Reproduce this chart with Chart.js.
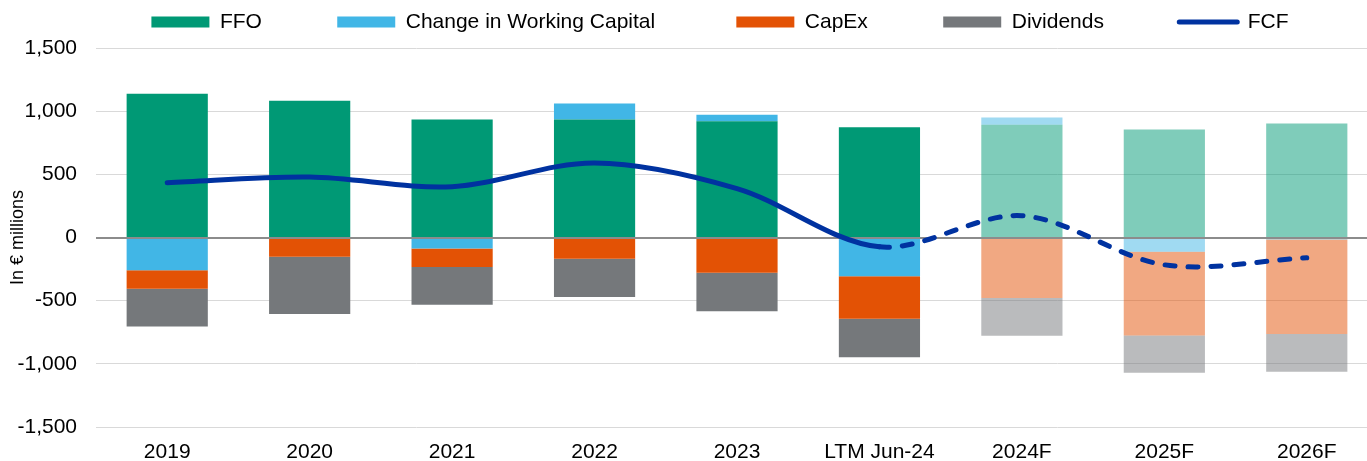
<!DOCTYPE html>
<html>
<head>
<meta charset="utf-8">
<script src="https://cdn.jsdelivr.net/npm/chart.js@4/dist/chart.umd.min.js"></script>
<style>
  html, body { margin: 0; padding: 0; background: #fff; width: 1367px; height: 461px; overflow: hidden; }
  #wrap { position: absolute; left: 0; top: 0; width: 1380px; height: 461px; }
</style>
</head>
<body>
<div id="wrap"><canvas id="c" width="1380" height="461"></canvas></div>
<script>
// ---- Data (€ millions) ----
const categories = ['2019', '2020', '2021', '2022', '2023', 'LTM Jun-24', '2024F', '2025F', '2026F'];
const ffo            = [1138, 1083,  934,  934,  921,  873,  892,  855,  902];
const workingCapital = [-260,    0,  -87,  127,   50, -306,   58, -113,  -16];
const capex          = [-145, -153, -146, -169, -280, -337, -479, -662, -748];
const dividends      = [-299, -452, -299, -302, -304, -304, -299, -296, -299];
const fcf            = [ 433,  478,  402,  590,  387,  -74,  172, -216, -161];
const yTicks = [-1500, -1000, -500, 0, 500, 1000, 1500];
const seriesNames = ['FFO', 'Change in Working Capital', 'CapEx', 'Dividends', 'FCF'];

// ---- Styling ----
const COL = { ffo: '#009975', wc: '#41B6E6', capex: '#E35205', div: '#75787B', fcf: '#0032A0' };
const isForecast = categories.map(c => /F$/.test(c));
const lastActualIdx = isForecast.indexOf(true) - 1;
const fillFor = hex => isForecast.map(f => f ? hex + '80' : hex);

Chart.defaults.font.family = "'Liberation Sans', Arial, sans-serif";
Chart.defaults.color = '#000';

function barSet(label, data, hex) {
  return {
    type: 'bar', label, data,
    backgroundColor: fillFor(hex),
    borderWidth: 0,
    pointStyle: 'rect',
    barPercentage: 0.57,
    categoryPercentage: 1.0,
    order: 1
  };
}

const zeroLine = {
  id: 'zeroLine',
  beforeDatasetDraw(chart, args) {
    if (args.index !== 4) return;
    const { ctx, chartArea } = chart;
    const y = Math.round(chart.scales.y.getPixelForValue(0));
    ctx.save();
    ctx.strokeStyle = '#8c8c8c';
    ctx.lineWidth = 2;
    ctx.beginPath();
    ctx.moveTo(chartArea.left, y);
    ctx.lineTo(chartArea.right, y);
    ctx.stroke();
    ctx.restore();
  }
};

const legendShift = {
  id: 'legendShift',
  afterLayout(chart) {
    const lg = chart.legend;
    if (!lg) return;
    lg.left += 31; lg.right += 31;
    lg.top -= 5.5; lg.bottom -= 5.5;
  }
};

new Chart(document.getElementById('c'), {
  data: {
    labels: categories,
    datasets: [
      barSet(seriesNames[0], ffo, COL.ffo),
      barSet(seriesNames[1], workingCapital, COL.wc),
      barSet(seriesNames[2], capex, COL.capex),
      barSet(seriesNames[3], dividends, COL.div),
      {
        type: 'line', label: seriesNames[4], data: fcf,
        stack: 'fcf',
        borderColor: COL.fcf, backgroundColor: COL.fcf,
        borderWidth: 5, borderCapStyle: 'round', borderJoinStyle: 'round',
        pointRadius: 0, pointHoverRadius: 0, pointStyle: 'line',
        tension: 0.33, fill: false, order: 0,
        segment: { borderDash: ctx => ctx.p0DataIndex >= lastActualIdx ? [10, 13] : undefined }
      }
    ]
  },
  options: {
    responsive: false,
    animation: false,
    layout: { padding: { left: 0, right: 2, top: 0, bottom: 0 } },
    plugins: {
      tooltip: { enabled: false },
      legend: {
        position: 'top',
        labels: {
          usePointStyle: true,
          pointStyleWidth: 58,
          boxHeight: 11,
          padding: 17,
          color: '#000',
          font: { size: 21 },
          sort: (a, b) => a.datasetIndex - b.datasetIndex,
          generateLabels(chart) {
            const items = Chart.defaults.plugins.legend.labels.generateLabels(chart);
            return items.map(it => {
              const ds = chart.data.datasets[it.datasetIndex];
              if (ds.type === 'bar') {
                it.text = it.text + '\u0020'.repeat(it.datasetIndex === 1 ? 11 : 10);
                it.lineWidth = 0;
                it.fillStyle = ds.backgroundColor[0];
                it.pointStyle = 'rect';
              } else {
                it.lineWidth = 5;
                it.strokeStyle = ds.borderColor;
                it.lineCap = 'round';
                it.lineDash = [];
                it.pointStyle = 'line';
              }
              return it;
            });
          }
        }
      }
    },
    scales: {
      x: {
        stacked: true,
        grid: { display: false },
        border: { display: false },
        ticks: { font: { size: 21 }, color: '#000', padding: 5, maxRotation: 0, autoSkip: false },
        afterFit: s => { s.height = 34; }
      },
      y: {
        stacked: true,
        min: yTicks[0], max: yTicks[yTicks.length - 1],
        afterBuildTicks: s => { s.ticks = yTicks.map(v => ({ value: v })); },
        ticks: {
          font: { size: 21 }, color: '#000', padding: 19,
          callback: v => Number(v).toLocaleString('en-US')
        },
        grid: { color: '#d9d9d9', lineWidth: 1, drawTicks: false },
        border: { display: false },
        title: { display: true, text: 'In € millions', font: { size: 18 }, color: '#000', padding: { top: 7, bottom: 0 } },
        afterFit: s => { s.width = 96; }
      }
    }
  },
  plugins: [zeroLine, legendShift]
});
</script>
</body>
</html>
